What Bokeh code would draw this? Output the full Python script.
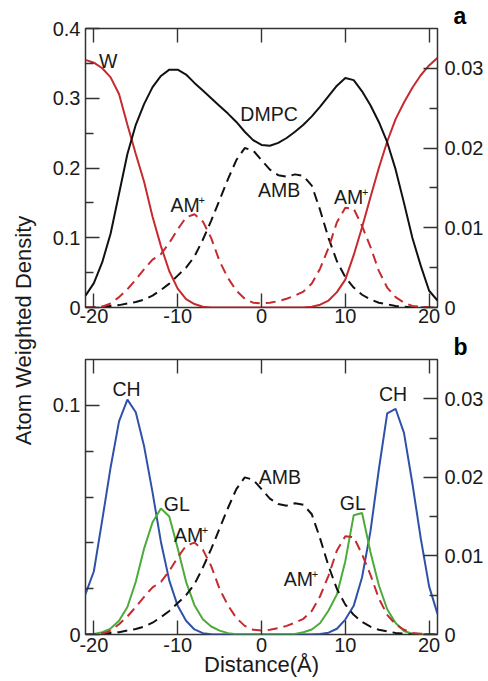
from bokeh.plotting import figure
from bokeh.models import Range1d, LinearAxis, FixedTicker, CustomJSTickFormatter, Label
from bokeh.layouts import row, column
from bokeh.embed import file_html
from bokeh.resources import INLINE

# ---------------- data ----------------
distance = list(range(-21, 22))  # Angstrom

# panel a, left axis
W = [0.355, 0.351, 0.343, 0.330, 0.306, 0.262, 0.220, 0.180, 0.130, 0.088,
     0.052, 0.027, 0.012, 0.005, 0.001, 0.0, 0.0, 0.0, 0.0, 0.0,
     0.0, 0.0, 0.0, 0.0, 0.0, 0.0, 0.0, 0.001, 0.004, 0.010,
     0.022, 0.040, 0.075, 0.115, 0.158, 0.200, 0.238, 0.270, 0.294, 0.315,
     0.333, 0.347, 0.358]
DMPC = [0.017, 0.035, 0.065, 0.106, 0.163, 0.220, 0.262, 0.292, 0.316, 0.332,
        0.341, 0.341, 0.334, 0.322, 0.311, 0.300, 0.289, 0.278, 0.266, 0.252,
        0.240, 0.233, 0.232, 0.236, 0.243, 0.252, 0.262, 0.274, 0.288, 0.303,
        0.318, 0.329, 0.326, 0.310, 0.290, 0.266, 0.237, 0.198, 0.150, 0.100,
        0.060, 0.024, 0.010]
# right axis (both panels)
AMB = [0.0, 0.0, 0.0001, 0.0002, 0.0003, 0.0005, 0.0007, 0.0010, 0.0015, 0.0022,
       0.0030, 0.0040, 0.0050, 0.0064, 0.0085, 0.0109, 0.0135, 0.0161, 0.0185, 0.0200,
       0.0197, 0.0185, 0.0173, 0.0166, 0.0164, 0.0167, 0.0165, 0.0153, 0.0122, 0.0087,
       0.0058, 0.0038, 0.0025, 0.0016, 0.0010, 0.0006, 0.0004, 0.0002, 0.0001, 0.0,
       0.0, 0.0, 0.0]
AMp = [0.0, 0.0, 0.0001, 0.0005, 0.0013, 0.0023, 0.0035, 0.0048, 0.0060, 0.0067,
       0.0081, 0.0098, 0.0113, 0.0117, 0.0108, 0.0087, 0.0058, 0.0037, 0.0021, 0.0011,
       0.0006, 0.0005, 0.0006, 0.0008, 0.0011, 0.0015, 0.0020, 0.0030, 0.0049, 0.0075,
       0.0107, 0.0125, 0.0124, 0.0102, 0.0076, 0.0046, 0.0025, 0.0013, 0.0006, 0.0002,
       0.0001, 0.0, 0.0]
# panel b, left axis
CH = [0.0176, 0.0276, 0.050, 0.073, 0.093, 0.1025, 0.097, 0.082, 0.062, 0.0404,
      0.0235, 0.0125, 0.006, 0.0022, 0.0006, 0.0001, 0.0, 0.0, 0.0, 0.0,
      0.0, 0.0, 0.0, 0.0, 0.0, 0.0, 0.0, 0.0, 0.0002, 0.0008,
      0.0025, 0.0065, 0.0125, 0.025, 0.045, 0.072, 0.0965, 0.0985, 0.088, 0.066,
      0.042, 0.021, 0.009]
GL = [0.0, 0.0002, 0.001, 0.0026, 0.006, 0.012, 0.023, 0.0376, 0.049, 0.055,
      0.0515, 0.0376, 0.023, 0.0128, 0.0067, 0.0035, 0.0017, 0.0006, 0.0001, 0.0,
      0.0, 0.0, 0.0, 0.0, 0.0, 0.0002, 0.001, 0.0022, 0.005, 0.0105,
      0.0175, 0.032, 0.052, 0.053, 0.036, 0.0215, 0.011, 0.005, 0.0015, 0.0003,
      0.0, 0.0, 0.0]

x_ticks = [-20, -10, 0, 10, 20]
a_left_ticks = [0, 0.1, 0.2, 0.3, 0.4]
a_left_minor = [0.05, 0.15, 0.25, 0.35]
b_left_ticks = [0, 0.1]
b_left_minor = [0.02, 0.04, 0.06, 0.08]
right_ticks = [0, 0.01, 0.02, 0.03]
right_minor = [0.005, 0.015, 0.025]

a_label_text = ["W", "DMPC", "AMB", "AM", "AM"]
a_label_x = [-18.3, 0.9, 2.1, -9.1, 10.4]
a_label_y = [0.353, 0.278, 0.168, 0.147, 0.159]
b_label_text = ["CH", "GL", "AM", "AMB", "GL", "AM", "CH"]
b_label_x = [-16.1, -10.1, -8.7, 2.2, 10.9, 4.4, 15.7]
b_label_y = [0.107, 0.057, 0.0433, 0.0688, 0.0576, 0.0243, 0.105]

# ---------------- styling ----------------
FONT = "Liberation Sans"
AX = "#333333"
RED = "#c62a2f"
BLACK = "#111111"
BLUE = "#2f52a8"
GREEN = "#4cab3b"
TXT = "#1a1a1a"
DASH = "10 6"
PANEL_W = 445

fmt_code = "return tick == 0 ? '0' : String(+tick.toFixed(4));"


def style_axis(ax, ticks, minor, labels=True, standoff=4):
    ax.ticker = FixedTicker(ticks=ticks, minor_ticks=minor)
    ax.formatter = CustomJSTickFormatter(code=fmt_code if labels else "return '';")
    ax.major_tick_in = 14
    ax.major_tick_out = 0
    ax.minor_tick_in = 8
    ax.minor_tick_out = 0
    ax.axis_line_color = None
    ax.major_tick_line_color = AX
    ax.major_tick_line_width = 1.4
    ax.minor_tick_line_color = AX
    ax.minor_tick_line_width = 1.4
    ax.major_label_text_font = FONT
    ax.major_label_text_font_size = "20px"
    ax.major_label_text_color = TXT
    ax.major_label_standoff = standoff if labels else 0


def make_panel(height, letter, ymax_left, left_ticks, left_minor, bottom_border):
    p = figure(width=PANEL_W, height=height, title=letter,
               x_range=Range1d(-21, 21), y_range=Range1d(0, ymax_left),
               output_backend="svg", toolbar_location=None,
               min_border_left=42, min_border_right=51,
               min_border_top=0, min_border_bottom=bottom_border)
    p.title.align = "left"
    p.title.offset = 368
    p.title.standoff = 0
    p.title.text_font = FONT
    p.title.text_font_size = "23px"
    p.title.text_font_style = "bold"
    p.title.text_color = "#000000"
    p.extra_y_ranges = {"r": Range1d(0, 0.035)}
    p.grid.visible = False
    p.outline_line_color = AX
    p.outline_line_width = 1.5
    bottom = p.xaxis[0]
    style_axis(bottom, x_ticks, [], standoff=1)
    style_axis(p.yaxis[0], left_ticks, left_minor, standoff=5)
    top = LinearAxis()
    style_axis(top, x_ticks, [], labels=False)
    p.add_layout(top, "above")
    right = LinearAxis(y_range_name="r")
    style_axis(right, right_ticks, right_minor, standoff=7)
    p.add_layout(right, "right")
    return p, bottom


def add_texts(p, texts, xs, ys):
    for t, x, y in zip(texts, xs, ys):
        p.add_layout(Label(x=x, y=y, text=t, text_align="center", text_baseline="middle",
                           text_font=FONT, text_font_size="19.5px", text_color=TXT))
        if t == "AM":
            p.add_layout(Label(x=x, y=y, text="+", x_offset=16.5, y_offset=5,
                               text_align="center", text_baseline="middle",
                               text_font=FONT, text_font_size="11px", text_color=TXT))


# ---------------- panel a ----------------
pa, pa_x = make_panel(331, "a", 0.4, a_left_ticks, a_left_minor, 24)
pa.line(distance, W, line_color=RED, line_width=2)
pa.line(distance, DMPC, line_color=BLACK, line_width=2)
pa.line(distance, AMB, y_range_name="r", line_color=BLACK, line_width=2, line_dash=DASH)
pa.line(distance, AMp, y_range_name="r", line_color=RED, line_width=2, line_dash=DASH)
add_texts(pa, a_label_text, a_label_x, a_label_y)

# ---------------- panel b ----------------
pb, pb_x = make_panel(350, "b", 0.12, b_left_ticks, b_left_minor, 47)
pb.line(distance, CH, line_color=BLUE, line_width=2)
pb.line(distance, GL, line_color=GREEN, line_width=2)
pb.line(distance, AMB, y_range_name="r", line_color=BLACK, line_width=2, line_dash=DASH)
pb.line(distance, AMp, y_range_name="r", line_color=RED, line_width=2, line_dash=DASH)
add_texts(pb, b_label_text, b_label_x, b_label_y)
pb_x.major_label_standoff = 3
pb_x.axis_label = "Distance(Å)"
pb_x.axis_label_text_font = FONT
pb_x.axis_label_text_font_size = "22px"
pb_x.axis_label_text_font_style = "normal"
pb_x.axis_label_text_color = TXT
pb_x.axis_label_standoff = -3

# ---------------- shared y-axis title ----------------
pl = figure(width=43, height=681, x_range=Range1d(0, 1), y_range=Range1d(0, 1),
            output_backend="svg", toolbar_location=None,
            min_border_left=35, min_border_right=0, min_border_top=0, min_border_bottom=21,
            x_axis_location=None, y_axis_location="left")
pl.grid.visible = False
pl.outline_line_color = None
ya = pl.yaxis[0]
ya.ticker = FixedTicker(ticks=[])
ya.axis_line_color = None
ya.major_tick_line_color = None
ya.minor_tick_line_color = None
ya.major_label_standoff = 0
ya.axis_label = "Atom Weighted Density"
ya.axis_label_text_font = FONT
ya.axis_label_text_font_size = "22px"
ya.axis_label_text_font_style = "normal"
ya.axis_label_text_color = TXT
ya.axis_label_standoff = 0

layout = row(pl, column(pa, pb))
open("out.html", "w").write(file_html(layout, INLINE))
